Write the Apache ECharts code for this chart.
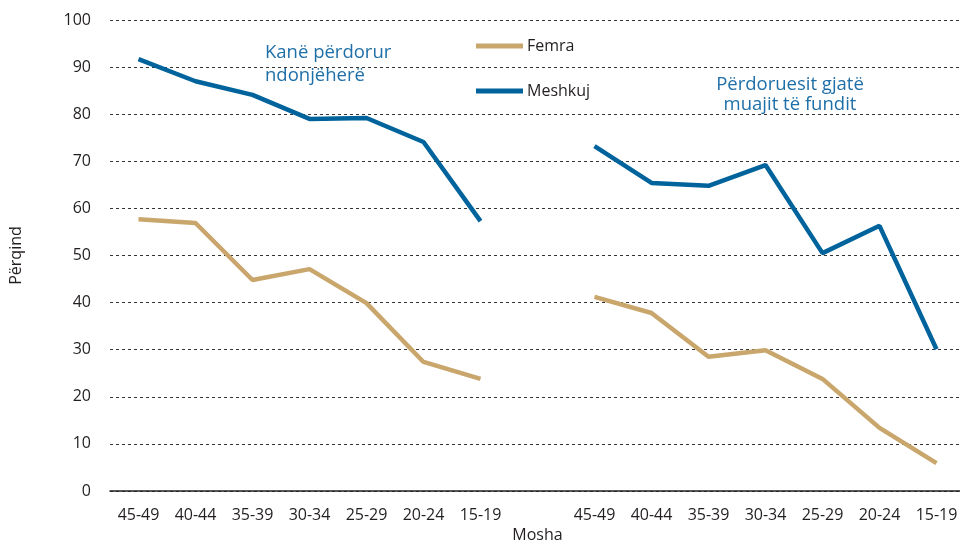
<!DOCTYPE html>
<html>
<head>
<meta charset="utf-8">
<script src="https://cdn.jsdelivr.net/npm/echarts@6/dist/echarts.min.js"></script>
<style>
  html, body { margin: 0; padding: 0; background: #fff; }
  #chart { width: 960px; height: 545px; }
</style>
</head>
<body>
<div id="chart"></div>
<script>
// two age blocks, with an empty slot between them
var categories = ['45-49', '40-44', '35-39', '30-34', '25-29', '20-24', '15-19', '',
                  '45-49', '40-44', '35-39', '30-34', '25-29', '20-24', '15-19'];

// Kanë përdorur ndonjëherë | Përdoruesit gjatë muajit të fundit
var femra   = [57.7, 56.9, 44.8, 47.1, 39.9, 27.4, 23.8, null,
               41.2, 37.8, 28.5, 29.9, 23.8, 13.4, 5.9];
var meshkuj = [91.7, 87.0, 84.1, 79.0, 79.2, 74.1, 57.3, null,
               73.2, 65.4, 64.8, 69.2, 50.5, 56.3, 30.1];

var yTicks = [0, 10, 20, 30, 40, 50, 60, 70, 80, 90, 100];

var FONT = '"Open Sans", sans-serif';
var BLUE = '#00639c';
var TAN = '#c9a66b';

var chart = echarts.init(document.getElementById('chart'));

var option = {
  animation: false,
  textStyle: { fontFamily: FONT },
  grid: { left: 110, top: 20, width: 855, bottom: 54, containLabel: false, outerBoundsMode: 'none' },
  legend: {
    data: ['Femra', 'Meshkuj'],
    orient: 'vertical',
    left: 471,
    top: 33,
    itemWidth: 47,
    itemHeight: 5,
    itemGap: 29,
    icon: 'rect',
    textStyle: { fontFamily: FONT, fontSize: 16, color: '#231f20', padding: [0, 0, 0, -1] }
  },
  xAxis: {
    type: 'category',
    data: categories,
    boundaryGap: true,
    name: 'Mosha',
    nameLocation: 'middle',
    nameGap: 36,
    nameTextStyle: { fontFamily: FONT, fontSize: 16, color: '#231f20' },
    axisLine: { lineStyle: { color: '#231f20', width: 1.5 } },
    axisTick: { show: false },
    axisLabel: { interval: 0, margin: 16, fontFamily: FONT, fontSize: 16, color: '#231f20' }
  },
  yAxis: {
    type: 'value',
    min: yTicks[0],
    max: yTicks[yTicks.length - 1],
    interval: 10,
    name: 'Përqind',
    nameLocation: 'middle',
    nameGap: 86,
    nameRotate: 90,
    nameTextStyle: { fontFamily: FONT, fontSize: 16, color: '#231f20' },
    axisLine: { show: false },
    axisTick: { show: false },
    axisLabel: { margin: 19, fontFamily: FONT, fontSize: 16, color: '#231f20' },
    splitLine: { lineStyle: { color: '#333', width: 1, type: [3, 3] } }
  },
  graphic: [
    {
      type: 'text', x: 265, y: 41,
      style: { text: 'Kanë përdorur\nndonjëherë', fill: '#1f6fa8', fontFamily: FONT, fontSize: 18.5, lineHeight: 23 }
    },
    {
      type: 'text', x: 790, y: 75,
      style: { text: 'Përdoruesit gjatë\nmuajit të fundit', fill: '#1f6fa8', fontFamily: FONT, fontSize: 18.5, lineHeight: 20, align: 'center' }
    }
  ],
  series: [
    {
      name: 'Femra', type: 'line', data: femra,
      showSymbol: false, connectNulls: false,
      lineStyle: { color: TAN, width: 4.5 }, itemStyle: { color: TAN }
    },
    {
      name: 'Meshkuj', type: 'line', data: meshkuj,
      showSymbol: false, connectNulls: false,
      lineStyle: { color: BLUE, width: 4.5 }, itemStyle: { color: BLUE }
    }
  ]
};

chart.setOption(option);
</script>
</body>
</html>
